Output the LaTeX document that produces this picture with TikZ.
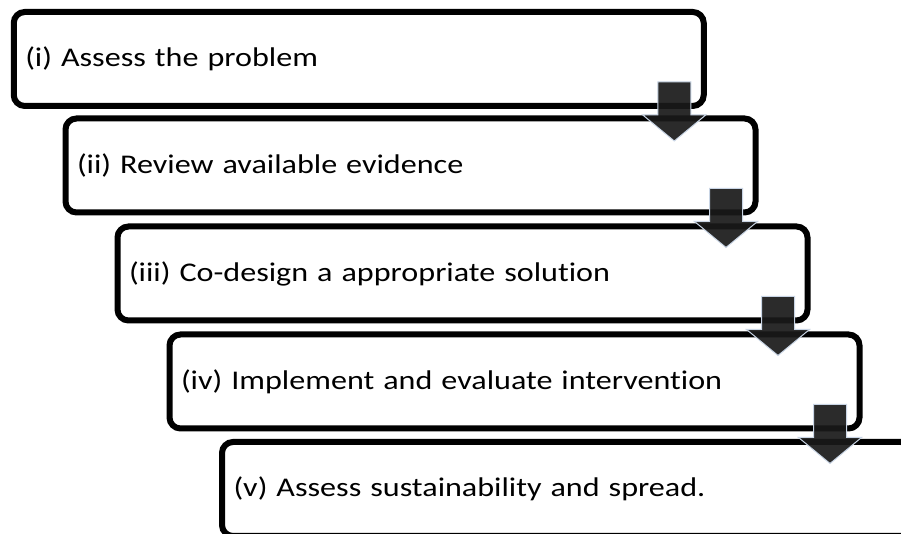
\documentclass[tikz,border=0pt]{standalone}
\usepackage{fontspec}
\setmainfont{Carlito}[FakeStretch=1.19, Ligatures=NoCommon]
\usetikzlibrary{calc}
\definecolor{arrowedge}{HTML}{C9D5E5}
\begin{document}
\begin{tikzpicture}[x=1pt,y=1pt,
  stepbox/.style={draw=black, line width=6pt, rounded corners=11pt,
    minimum width=690pt, minimum height=94pt, text width=667pt,
    inner xsep=11.5pt, inner ysep=0pt, align=left, outer sep=0pt,
    font=\fontsize{27}{32}\selectfont, anchor=center},
  darrow/.pic={\filldraw[fill=black!90, fill opacity=0.92, draw=arrowedge, line width=1pt, line join=miter]
    (-16.5,24) -- (16.5,24) -- (16.5,-9) -- (31.5,-9) -- (0,-35) -- (-31.5,-9) -- (-16.5,-9) -- cycle;}
]
\fill[white] (0,0) rectangle (901,534);
\useasboundingbox (0,0) rectangle (901,534);
\clip (0,0) rectangle (901,534);
\node[stepbox] (b1) at (358.75,475) {(i) Assess the problem};
\node[stepbox] (b2) at (410.5,368.5) {(ii) Review available evidence};
\node[stepbox] (b3) at (462.5,260.5) {(iii) Co-design a appropriate solution};
\node[stepbox] (b4) at (514.5,152.5) {(iv) Implement and evaluate intervention};
\node[stepbox] (b5) at (567,45) {(v) Assess sustainability and spread.};
\foreach \n in {1,2,3,4}{
  \pic at ($(b\n.south east)+(-29.5,0)$) {darrow};
}
\end{tikzpicture}
\end{document}
